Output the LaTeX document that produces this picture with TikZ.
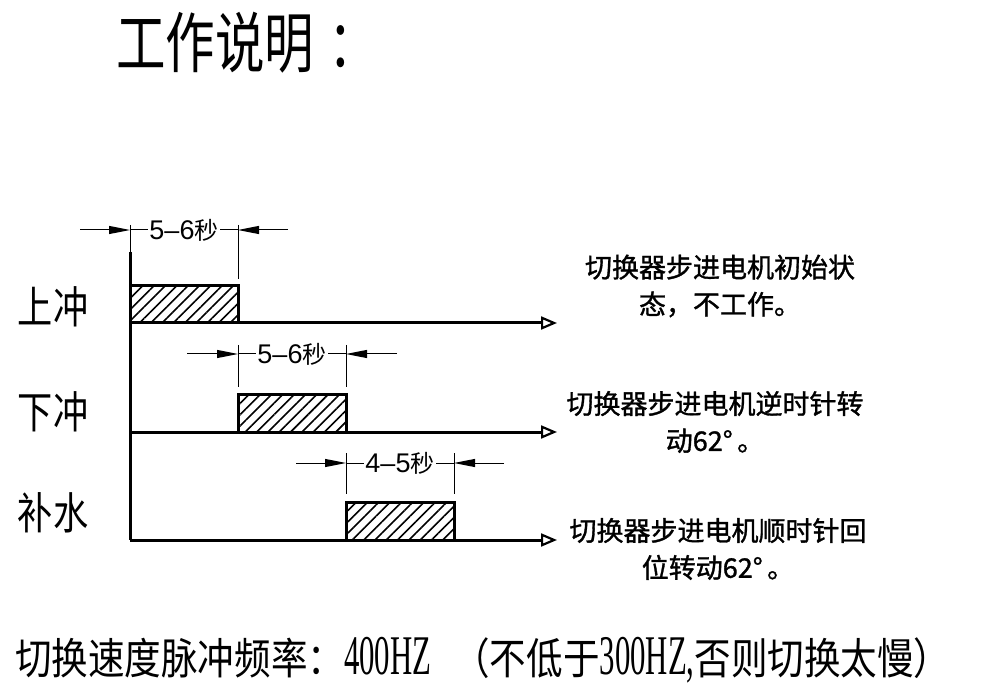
\documentclass[tikz,border=0pt]{standalone}
\usepackage{fontspec}
\setmainfont{Noto Sans CJK SC}
\newfontfamily\titlefont{Noto Sans CJK SC}[FakeStretch=0.75]
\newfontfamily\labelfont{Noto Sans CJK SC}[FakeStretch=0.8]
\newfontfamily\bottomfont{Noto Sans CJK SC}[FakeStretch=0.85]
\newfontfamily\narrowdigits{Liberation Serif}[FakeStretch=0.55]
\newfontfamily\notefont{Noto Sans CJK SC}[FakeBold=1.2]
\newfontfamily\dimdigits{Liberation Sans}
\usetikzlibrary{arrows.meta,patterns.meta}
\begin{document}
\begin{tikzpicture}[x=1pt,y=-1pt,
 axis/.style={line width=3pt},
 axisarrow/.style={line width=3pt,-{Triangle[open,length=16pt,width=13pt,line width=2.2pt]}},
 bar/.style={line width=3pt,pattern={Lines[angle=45,distance=8pt,line width=1.6pt]}},
 dimline/.style={line width=1pt},
 dimarrow/.style={line width=1pt,-{Triangle[length=21pt,width=8pt]}},
 dimlabel/.style={fill=white,inner sep=1pt,font=\fontsize{24}{24}\selectfont},
 rowlabel/.style={font=\labelfont\fontsize{44}{44}\selectfont},
 note/.style={font=\notefont\fontsize{27}{37}\selectfont,align=center},
 titletext/.style={font=\titlefont\fontsize{66}{66}\selectfont,anchor=west,inner sep=0pt},
 bottomtext/.style={font=\bottomfont\fontsize{43}{43}\selectfont,anchor=west,inner sep=0pt},
]
\useasboundingbox (0,0) rectangle (985,700);

% title
\node[titletext] (title) at (116,43) {工作说明\hspace{14pt}：};

% row labels
\node[rowlabel] (lab1) at (53,307) {上冲};
\node[rowlabel] (lab2) at (53,412) {下冲};
\node[rowlabel] (lab3) at (53,513) {补水};

% axes
\coordinate (top) at (130,252);
\coordinate (o1) at (130,323);
\coordinate (o2) at (130,432);
\coordinate (o3) at (130,540);
\coordinate (e1) at (557,323);
\coordinate (e2) at (557,432);
\coordinate (e3) at (557,540);
\draw[axis] (top) -- (o3);
\draw[axisarrow] (o1) -- (e1);
\draw[axisarrow] (o2) -- (e2);
\draw[axisarrow] (o3) -- (e3);

% pulses
\draw[bar] (130,286) rectangle (238,323);
\draw[bar] (238,394) rectangle (346,432);
\draw[bar] (346,502) rectangle (454,540);

% dimension 1
\draw[dimline] (130,225) -- (top);
\draw[dimline] (238,225) -- (238,279);
\coordinate (d1a) at (80,230);
\coordinate (d1b) at (130,230);
\coordinate (d1c) at (238,230);
\coordinate (d1d) at (288,230);
\draw[dimarrow] (d1a) -- (d1b);
\draw[dimarrow] (d1d) -- (d1c);
\draw[dimline] (d1b) -- node[dimlabel] (t1) {{\dimdigits\fontsize{27}{27}\selectfont 5–6}秒} (d1c);

% dimension 2
\draw[dimline] (238,345) -- (238,387);
\draw[dimline] (346,345) -- (346,387);
\coordinate (d2a) at (187,354);
\coordinate (d2b) at (238,354);
\coordinate (d2c) at (346,354);
\coordinate (d2d) at (397,354);
\draw[dimarrow] (d2a) -- (d2b);
\draw[dimarrow] (d2d) -- (d2c);
\draw[dimline] (d2b) -- node[dimlabel] (t2) {{\dimdigits\fontsize{27}{27}\selectfont 5–6}秒} (d2c);

% dimension 3
\draw[dimline] (346,453) -- (346,494);
\draw[dimline] (454,453) -- (454,494);
\coordinate (d3a) at (296,463);
\coordinate (d3b) at (346,463);
\coordinate (d3c) at (454,463);
\coordinate (d3d) at (504,463);
\draw[dimarrow] (d3a) -- (d3b);
\draw[dimarrow] (d3d) -- (d3c);
\draw[dimline] (d3b) -- node[dimlabel] (t3) {{\dimdigits\fontsize{27}{27}\selectfont 4–5}秒} (d3c);

% notes
\node[note] (n1) at (720,286) {切换器步进电机初始状\\态，不工作。};
\node[note] (n2) at (715,422) {切换器步进电机逆时针转\\动62°\,。};
\node[note] (n3) at (718,549) {切换器步进电机顺时针回\\位转动62°\,。};

% bottom
\node[bottomtext] (bottom) at (15,660) {切换速度脉冲频率：{\narrowdigits\fontsize{56}{56}\selectfont 400HZ}\hspace{22pt}（不低于{\narrowdigits\fontsize{56}{56}\selectfont 300HZ,}否则切换太慢）};
\end{tikzpicture}
\end{document}
